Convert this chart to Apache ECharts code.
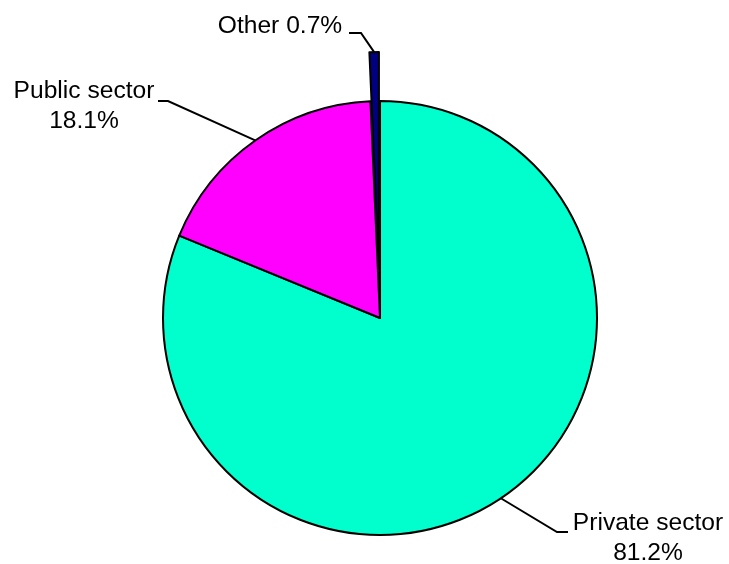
<!DOCTYPE html>
<html><head><meta charset="utf-8">
<script src="https://cdn.jsdelivr.net/npm/echarts@6/dist/echarts.min.js"></script>
<style>html,body{margin:0;padding:0;background:#fff}#c{width:729px;height:564px}</style>
</head><body><div id="c"></div>
<script>
var categories = ['Private sector', 'Public sector', 'Other'];
var values = [81.2, 18.1, 0.7];
var colors = ['#00FFCC', '#FF00FF', '#000080'];
var explodedIndex = 2;

var CX = 380, CY = 318, R = 217, OFF = 49;
var total = values.reduce(function(a,b){return a+b;},0);
var mids = [], acc = 0;
values.forEach(function(v){ var a0 = 90 - acc/total*360; acc += v; var a1 = 90 - acc/total*360; mids.push((a0+a1)/2); });
var tEx = mids[explodedIndex]*Math.PI/180;
var exCenter = [CX + OFF*Math.cos(tEx), CY - OFF*Math.sin(tEx)];
function anchor(i){
  var t = mids[i]*Math.PI/180;
  var off = (i === explodedIndex) ? OFF : 0;
  return [CX + (R+off)*Math.cos(t), CY - (R+off)*Math.sin(t)];
}
// label placement: [x, y, elbowX, elbowY, endX]
var labelPos = [
  [648, 538, 557, 532, 568],
  [84, 106, 168, 101, 158],
  [280, 26, 361, 33, 349]
];

var labelBase = {
  color: '#000',
  fontFamily: 'Liberation Sans, Arial, sans-serif',
  fontSize: 24.6,
  lineHeight: 30,
  align: 'center',
  formatter: function(p){
    return p.dataIndex === explodedIndex ? p.name + ' ' + p.value.toFixed(1) + '%' : p.name + '\n' + p.value.toFixed(1) + '%';
  }
};
function layout(params){
  var i = params.dataIndex, lp = labelPos[i];
  return {
    x: lp[0], y: lp[1], align: 'center', verticalAlign: 'middle',
    labelLinePoints: [anchor(i), [lp[2], lp[3]], [lp[4], lp[3]]]
  };
}
function makeData(showExploded){
  return categories.map(function(n, i){
    var visible = showExploded ? (i === explodedIndex) : (i !== explodedIndex);
    return {
      name: n, value: values[i],
      itemStyle: visible ? {color: colors[i], borderColor: '#000', borderWidth: 2} : {color: 'rgba(0,0,0,0)', borderWidth: 0},
      label: {show: visible},
      labelLine: {show: visible}
    };
  });
}

var common = {
  type: 'pie',
  radius: [0, R],
  startAngle: 90,
  clockwise: true,
  silent: true,
  emphasis: {disabled: true},
  label: labelBase,
  labelLine: {show: true, lineStyle: {color: '#000', width: 2}},
  labelLayout: layout
};

var chart = echarts.init(document.getElementById('c'), null, {renderer:'canvas'});
chart.setOption({
  animation: false,
  backgroundColor: '#fff',
  series: [
    Object.assign({}, common, {center: [CX, CY], data: makeData(false)}),
    Object.assign({}, common, {center: exCenter, data: makeData(true)})
  ]
});
</script></body></html>
